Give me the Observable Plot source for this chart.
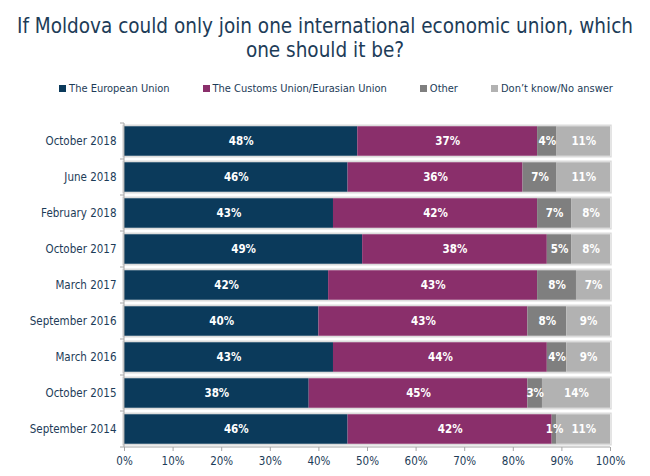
<!DOCTYPE html>
<html>
<head>
<meta charset="utf-8">
<script src="https://cdn.jsdelivr.net/npm/d3@7"></script>
<script src="https://cdn.jsdelivr.net/npm/@observablehq/plot@0.6"></script>
<style>
  body { margin: 0; background: #fff; font-family: "DejaVu Sans Condensed", sans-serif; }
  #wrap { width: 650px; }
  #title { text-align: center; color: #1d3c58; font-size: 20.5px; line-height: 24px; padding-top: 14px; box-sizing: border-box; height: 76px; }
  #legend { display: flex; justify-content: center; gap: 33px; font-size: 11px; color: #1d3c58; height: 24px; align-items: center; margin-left: 22px; }
  #legend span.sw { display: inline-block; width: 7px; height: 7px; margin-right: 3px; vertical-align: 0px; }
  #chart svg { display: block; }
</style>
</head>
<body>
<div id="wrap">
  <div id="title">If Moldova could only join one international economic union, which<br>one should it be?</div>
  <div id="legend"></div>
  <div id="chart"></div>
</div>
<script>
const periods = ["October 2018", "June 2018", "February 2018", "October 2017", "March 2017", "September 2016", "March 2016", "October 2015", "September 2014"];
const seriesNames = ["The European Union", "The Customs Union/Eurasian Union", "Other", "Don\u2019t know/No answer"];
const eu      = [48, 46, 43, 49, 42, 40, 43, 38, 46];
const customs = [37, 36, 42, 38, 43, 43, 44, 45, 42];
const other   = [4, 7, 7, 5, 8, 8, 4, 3, 1];
const dk      = [11, 11, 8, 8, 7, 9, 9, 14, 11];
const colors  = ["#0b3a5b", "#8a2f6b", "#7f7f7f", "#b2b2b2"];
const xTicks  = [0, 10, 20, 30, 40, 50, 60, 70, 80, 90, 100];

const seriesValues = [eu, customs, other, dk];
const data = [];
periods.forEach((p, i) => {
  seriesNames.forEach((s, j) => data.push({period: p, series: s, value: seriesValues[j][i]}));
});
const totals = periods.map((p, i) => ({period: p, total: seriesValues.reduce((a, v) => a + v[i], 0)}));

// legend
const legend = document.getElementById("legend");
seriesNames.forEach((s, j) => {
  const item = document.createElement("div");
  item.innerHTML = `<span class="sw" style="background:${colors[j]}"></span>${s}`;
  legend.appendChild(item);
});

const height = 376;
const font = "\"DejaVu Sans Condensed\", sans-serif";
const axisColor = "#a6a6a6";
const chart = Plot.plot({
  width: 650,
  height,
  marginTop: 23,
  marginBottom: 29,
  marginLeft: 124,
  marginRight: 40,
  style: {fontFamily: font, fontSize: "11px", color: "#1d3c58", background: "#fff"},
  x: {domain: [0, 100], ticks: xTicks, tickFormat: d => d + "%", label: null},
  y: {domain: periods, label: null, paddingInner: 0.18, paddingOuter: 0.09, round: false},
  color: {domain: seriesNames, range: colors},
  marks: [
    Plot.barX(totals, {y: "period", x1: 0, x2: "total", fill: "none", stroke: "#dcdcdc", strokeWidth: 1.5, inset: -1}),
    Plot.barX(data, Plot.stackX({y: "period", x: "value", fill: "series", z: "series", order: null})),
    Plot.text(data, Plot.stackX({y: "period", x: "value", z: "series", order: null, text: d => d.value + "%", fill: "white", fontSize: 11.5, fontWeight: 600})),
    Plot.axisY({tickSize: 0, tickPadding: 8, fill: "#1d3c58", fontSize: 11.5}),
    Plot.axisX({ticks: xTicks, tickFormat: d => d + "%", tickSize: 4, tickPadding: 5, stroke: axisColor, fill: "#1d3c58", fontSize: 11.5})
  ]
});

// y-axis ticks at band boundaries and the axis lines, from Plot's own scales
const y = chart.scale("y");
const x = chart.scale("x");
const bw = y.bandwidth, st = y.step;
const gap = (st - bw) / 2;
const bounds = periods.map(p => y.apply(p) - gap).concat([y.apply(periods[periods.length - 1]) + bw + gap]);
const svg = d3.select(chart);
const g = svg.append("g").attr("stroke", axisColor);
g.selectAll("line.tk").data(bounds).join("line")
  .attr("x1", x.apply(0) - 4).attr("x2", x.apply(0))
  .attr("y1", d => d).attr("y2", d => d);
g.append("line")
  .attr("x1", x.apply(0)).attr("x2", x.apply(100))
  .attr("y1", bounds[bounds.length - 1]).attr("y2", bounds[bounds.length - 1]);
g.append("line")
  .attr("x1", x.apply(0)).attr("x2", x.apply(0))
  .attr("y1", bounds[0]).attr("y2", bounds[bounds.length - 1]);

document.getElementById("chart").appendChild(chart);
</script>
</body>
</html>
